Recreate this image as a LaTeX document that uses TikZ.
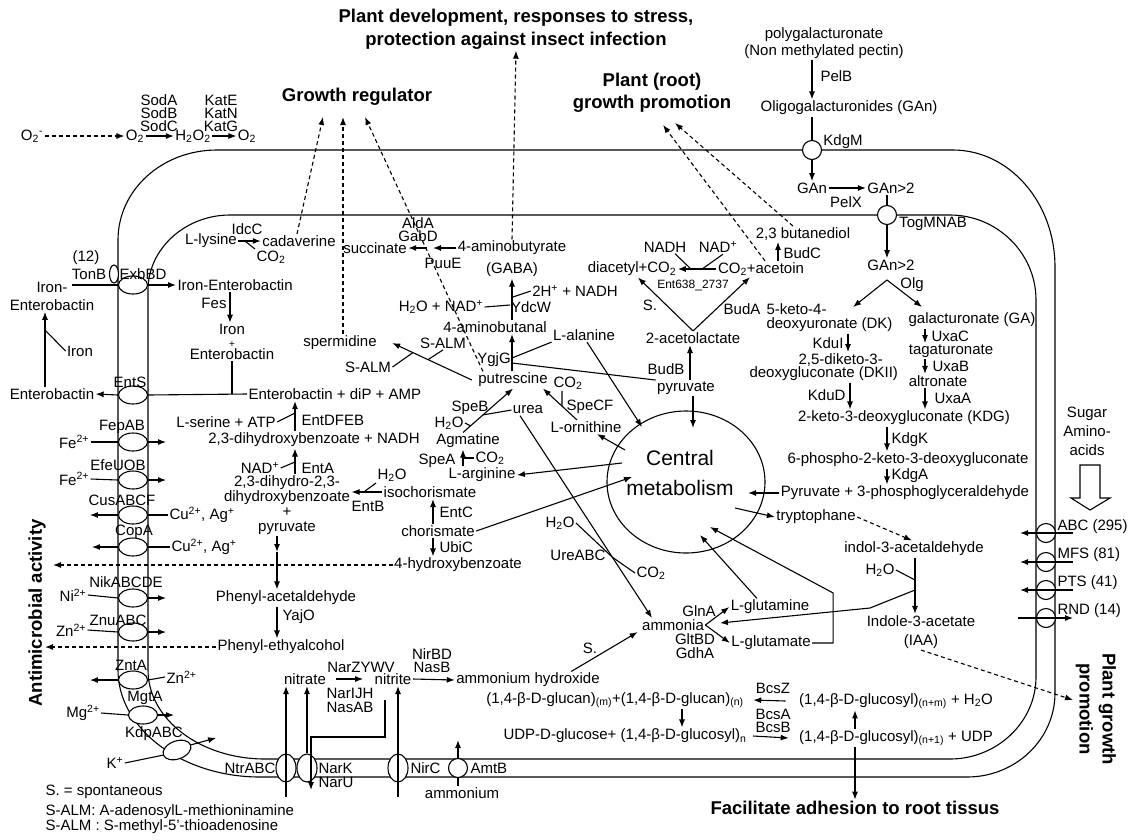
\documentclass[tikz,border=0pt]{standalone}
\usepackage{fontspec}
\setmainfont{Liberation Sans}
\usepackage{tikz}
\usetikzlibrary{arrows.meta,shapes.geometric,calc}
\newcommand{\labfont}{\fontsize{15}{17}\selectfont}
\newcommand{\smfont}{\fontsize{12}{13}\selectfont}
\newcommand{\headfont}{\bfseries\fontsize{18.5}{23}\selectfont}
\newcommand{\cmfont}{\fontsize{21}{30}\selectfont}
\newcommand{\ssub}[1]{\textsubscript{#1}}
\newcommand{\ssup}[1]{\textsuperscript{#1}}

\begin{document}
\begin{tikzpicture}[x=1pt, y=-1pt, line width=1.1pt, every node/.style={font=\labfont, inner sep=1pt}]
\tikzstyle{arr}=[-{Latex[length=8pt,width=6pt]}]
\tikzstyle{dsh}=[arr, dash pattern=on 4pt off 3pt]
\tikzstyle{porter}=[ellipse, draw, fill=white, minimum width=29pt, minimum height=18pt, inner sep=0pt]
\tikzstyle{vporter}=[porter, minimum width=20pt, minimum height=28pt]
\tikzstyle{pore}=[circle, draw, fill=white, minimum size=19pt, inner sep=0pt]
\tikzstyle{headtxt}=[font=\headfont, align=center]
\useasboundingbox (0,0) rectangle (1130,839);

\draw (217,150) -- (953,150) .. controls (1009,150) and (1055,202) .. (1055,267)
  -- (1055,693) .. controls (1055,739) and (1016,777) .. (967,777)
  -- (260,777) .. controls (182,777) and (118,729) .. (118,670)
  -- (118,240) .. controls (118,190) and (162,150) .. (217,150) -- cycle;
\draw (230,215) -- (950,215) .. controls (997,215) and (1036,253) .. (1036,300)
  -- (1036,677) .. controls (1036,722) and (997,759) .. (950,759)
  -- (265,759) .. controls (200,759) and (148,719) .. (148,670)
  -- (148,290) .. controls (148,249) and (185,215) .. (230,215) -- cycle;

\node[headtxt] (tdev) at (516,29) {Plant development, responses to stress,\\protection against insect infection};
\node[headtxt] (tgrow) at (357,97) {Growth regulator};
\node[headtxt, font=\bfseries\fontsize{18.5}{22}\selectfont] (troot) at (652,93) {Plant (root)\\growth promotion};
\node[headtxt, rotate=90] (tanti) at (37,613) {Antimicrobial activity};
\node[headtxt, rotate=-90] (tpgp) at (1096,709) {Plant growth\\promotion};
\node[headtxt] (tadh) at (855,808) {Facilitate adhesion to root tissus};
\coordinate (gr1) at (323,117);
\coordinate (gr2) at (343,117);
\coordinate (gr3) at (365,117);
\coordinate (rt1) at (663,125);
\coordinate (rt2) at (675,123);
\coordinate (anti1) at (53,565);
\coordinate (anti2) at (45,647);
\coordinate (pgp) at (1073,700);

\node (o2m) at (32,136) {O\ssub{2}\ssup{-}};
\node (o2a) at (135,136) {O\ssub{2}};
\node (h2o2) at (193,136) {H\ssub{2}O\ssub{2}};
\node (o2b) at (247,136) {O\ssub{2}};
\node[align=center, font=\fontsize{15}{13}\selectfont] (sod) at (159,113) {SodA\\SodB\\SodC};
\node[align=center, font=\fontsize{15}{13}\selectfont] (kat) at (221,113) {KatE\\KatN\\KatG};

\node[align=center] (pgal) at (824,43) {polygalacturonate\\(Non methylated pectin)};
\node[anchor=west] (pelb) at (819,76) {PelB};
\node (oligo) at (849,108) {Oligogalacturonides (GAn)};
\node[pore] (kdgm) at (812,150) {};
\node (kdgml) at (843,142) {KdgM};
\node (gan) at (812,188) {GAn};
\node (gan2a) at (891,188) {GAn>2};
\node (pelx) at (846,202) {PelX};
\node[pore] (togm) at (887,215) {};
\node (togml) at (933,224) {TogMNAB};
\node (gan2b) at (891,265) {GAn>2};
\node (olg) at (912,285) {Olg};
\coordinate (olgtop) at (887,280);
\coordinate (dktop) at (853,307);
\coordinate (gatop) at (922,307);

\node[anchor=west, align=left, font=\fontsize{15}{14}\selectfont] (dk) at (765,318) {5-keto-4-\\deoxyuronate (DK)};
\node (ga) at (972,320) {galacturonate (GA)};
\node[anchor=east] (kdui) at (845,343) {KduI};
\node[anchor=west] (dkii1) at (797,360) {2,5-diketo-3-};
\node[anchor=west] (dkii2) at (748,374) {deoxygluconate (DKII)};
\node[anchor=east] (kdud) at (847,395) {KduD};
\node (kdg) at (904,418) {2-keto-3-deoxygluconate (KDG)};
\node[anchor=west] (uxac) at (930,336) {UxaC};
\node (tag) at (951,351) {tagaturonate};
\node[anchor=west] (uxab) at (931,366) {UxaB};
\node (altr) at (938,381) {altronate};
\node[anchor=west] (uxaa) at (933,398) {UxaA};
\node[anchor=west] (kdgk) at (890,440) {KdgK};
\node (p6) at (908,460) {6-phospho-2-keto-3-deoxygluconate};
\node[anchor=west] (kdga) at (890,476) {KdgA};
\node (pyr3) at (905,493) {Pyruvate + 3-phosphoglyceraldehyde};

\node[ellipse, draw, minimum width=158pt, minimum height=142pt, inner sep=0pt] (cm) at (686,482) {};
\node[font=\cmfont, align=center] (cmtxt) at (680,473) {Central\\metabolism};
\coordinate (cmN) at (693,428);
\coordinate (cmNW) at (642,427);
\coordinate (cmW1) at (625,450);
\coordinate (cmW2) at (622,463);
\coordinate (cmW3) at (632,477);
\coordinate (cmS1) at (700,535);
\coordinate (cmS2) at (710,527);
\coordinate (cmE) at (748,493);
\coordinate (cmE2) at (735,508);

\node (trp) at (816,517) {tryptophane};
\node (iald) at (914,549) {indol-3-acetaldehyde};
\node (h2oi) at (880,570) {H\ssub{2}O};
\node[align=center, font=\fontsize{15}{19}\selectfont] (iaa) at (921,632) {Indole-3-acetate\\(IAA)};
\coordinate (iaaj1) at (915,580);
\coordinate (iaaj2) at (915,590);
\coordinate (iaak) at (870,608);
\coordinate (amE) at (720,623);

\node[align=center, font=\fontsize{15}{19}\selectfont] (sugar) at (1087,431) {Sugar\\Amino-\\acids};
\node[pore] (abc) at (1046,533) {};
\node[pore] (mfs) at (1046,562) {};
\node[pore] (pts) at (1046,590) {};
\node[pore] (rnd) at (1046,618) {};
\node[anchor=west] (abcl) at (1056,527) {ABC (295)};
\node[anchor=west] (mfsl) at (1056,555) {MFS (81)};
\node[anchor=west] (ptsl) at (1056,583) {PTS (41)};
\node[anchor=west] (rndl) at (1056,611) {RND (14)};

\node (ammonia) at (673,625) {ammonia};
\node (glna) at (699,611) {GlnA};
\node[align=center, font=\fontsize{15}{13.5}\selectfont] (gltbd) at (695,646) {GltBD\\GdhA};
\node (gln) at (770,607) {L-glutamine};
\node (glu) at (771,643) {L-glutamate};
\node (sdot1) at (590,648) {S.};

\node (glucan) at (615,700) {(1,4-β-D-glucan)\ssub{(m)}+(1,4-β-D-glucan)\ssub{(n)}};
\node (bcsz) at (773,688) {BcsZ};
\node (glcnm) at (896,701) {(1,4-β-D-glucosyl)\ssub{(n+m)} + H\ssub{2}O};
\node (udpg) at (625,736) {UDP-D-glucose+ (1,4-β-D-glucosyl)\ssub{n}};
\node[align=center, font=\fontsize{15}{13}\selectfont] (bcsab) at (773,721) {BcsA\\BcsB};
\node (glcn1) at (896,738) {(1,4-β-D-glucosyl)\ssub{(n+1)} + UDP};

\node (nitrate) at (305,679) {nitrate};
\node (narz) at (361,667) {NarZYWV};
\node[align=center, font=\fontsize{15}{14}\selectfont] (narijh) at (350,700) {NarIJH\\NasAB};
\node (nitrite) at (393,679) {nitrite};
\node[align=center, font=\fontsize{15}{13}\selectfont] (nirbd) at (432,661) {NirBD\\NasB};
\node (amhy) at (528,680) {ammonium hydroxide};
\node[vporter] (ntr) at (286,768) {};
\node[anchor=east] (ntrl) at (277,768) {NtrABC};
\node[vporter] (nark) at (307,768) {};
\node[anchor=west, align=left, font=\fontsize{15}{14}\selectfont] (narkl) at (317,775) {NarK\\NarU};
\node[vporter] (nirc) at (398,768) {};
\node[anchor=west] (nircl) at (409,768) {NirC};
\node[pore] (amtb) at (458,768) {};
\node[anchor=west] (amtbl) at (469,768) {AmtB};
\node (ammonium) at (462,793) {ammonium};
\coordinate (ntrbot) at (286,797);
\coordinate (nircbot) at (398,797);
\coordinate (amtbtip) at (458,740);
\coordinate (nitj) at (385,700);
\coordinate (nitk) at (311,737);
\coordinate (nitout) at (311,790);

\node[porter] (exbbd) at (133,285) {};
\node[ellipse, draw, fill=white, minimum width=9pt, minimum height=18pt, inner sep=0pt] (tonb) at (114,274) {};
\node (n12) at (86,258) {(12)};
\node (tonbl) at (89,274) {TonB};
\node (exbbdl) at (143,274) {ExbBD};
\node[align=center, font=\fontsize{15}{18}\selectfont] (ironent) at (52,296) {Iron-\\Enterobactin};
\node[anchor=west] (ironent2) at (176,285) {Iron-Enterobactin};
\node (fes) at (214,303) {Fes};
\node[align=center, font=\fontsize{15}{12.5}\selectfont] (ironplus) at (232,342) {Iron\\{\fontsize{10}{10}\selectfont +}\\Enterobactin};
\node[porter] (ents) at (133,395) {};
\node (entsl) at (130,382) {EntS};
\node (entout) at (52,394) {Enterobactin};
\node (ironx) at (80,351) {Iron};
\node[anchor=west] (entamp) at (247,394) {Enterobactin + diP + AMP};
\coordinate (ironj) at (45,330);
\coordinate (ironline) at (72,285);

\node (serine) at (226,422) {L-serine + ATP};
\node[anchor=west] (entdfeb) at (300,420) {EntDFEB};
\node (dhb) at (314,440) {2,3-dihydroxybenzoate + NADH};
\node (nad1) at (260,468) {NAD\ssup{+}};
\node[anchor=west] (enta) at (300,468) {EntA};
\node[align=center, font=\fontsize{15}{15}\selectfont] (dhdhb) at (287,505) {2,3-dihydro-2,3-\\dihydroxybenzoate\\+\\pyruvate};
\node (iso) at (430,492) {isochorismate};
\node (h2oiso) at (392,475) {H\ssub{2}O};
\node (entb) at (368,506) {EntB};
\node (chor) at (438,531) {chorismate};
\node[anchor=west] (entc) at (438,512) {EntC};
\node[anchor=west] (ubic) at (438,547) {UbiC};
\node (hba) at (458,565) {4-hydroxybenzoate};
\node (phac) at (286,598) {Phenyl-acetaldehyde};
\node[anchor=west] (yajo) at (281,617) {YajO};
\node (phet) at (281,647) {Phenyl-ethyalcohol};
\coordinate (atpj) at (295,413);
\coordinate (nadj) at (295,462);
\coordinate (isoj) at (365,491);
\coordinate (pyrmid) at (277,552);

\node[porter] (fepab) at (133,442) {};
\node (fepabl) at (122,427) {FepAB};
\node (fe1) at (74,442) {Fe\ssup{2+}};
\node[porter] (efeuob) at (133,480) {};
\node (efeuobl) at (118,465) {EfeUOB};
\node (fe2) at (74,479) {Fe\ssup{2+}};
\node[porter] (cusabcf) at (133,515) {};
\node (cusl) at (122,500) {CusABCF};
\node[anchor=west] (cu1) at (168,515) {Cu\ssup{2+}, Ag\ssup{+}};
\node[porter] (copa) at (133,547) {};
\node (copal) at (134,532) {CopA};
\node[anchor=west] (cu2) at (170,547) {Cu\ssup{2+}, Ag\ssup{+}};
\node[porter] (nik) at (133,598) {};
\node (nikl) at (126,582) {NikABCDE};
\node (ni) at (73,595) {Ni\ssup{2+}};
\node[porter] (znu) at (133,632) {};
\node (znul) at (118,620) {ZnuABC};
\node (zn1) at (71,630) {Zn\ssup{2+}};
\node[porter] (znta) at (133,680) {};
\node (zntal) at (131,665) {ZntA};
\node[anchor=west] (zn2) at (165,677) {Zn\ssup{2+}};
\node[porter] (mgta) at (143,715) {};
\node (mgtal) at (145,698) {MgtA};
\node (mg) at (83,713) {Mg\ssup{2+}};
\node[porter, rotate=20] (kdp) at (177,750) {};
\node (kdpl) at (154,734) {KdpABC};
\node (kion) at (115,763) {K\ssup{+}};

\node (lys) at (211,241) {L-lysine};
\node (idcc) at (247,229) {IdcC};
\node (cad) at (299,241) {cadaverine};
\node (co2a) at (271,257) {CO\ssub{2}};
\coordinate (lysj) at (245,241);
\node (succ) at (375,248) {succinate};
\node[align=center, font=\fontsize{15}{13}\selectfont] (aldgab) at (418,230) {AldA\\GabD};
\node (puue) at (443,263) {PuuE};
\node[align=center, font=\fontsize{15}{22}\selectfont] (gaba) at (512,259) {4-aminobutyrate\\(GABA)};
\coordinate (ssa) at (430,248);
\node (abal) at (495,327) {4-aminobutanal};
\node (h2onad) at (441,307) {H\ssub{2}O + NAD\ssup{+}};
\node (ydcw) at (531,307) {YdcW};
\node (h2nadh) at (575,291) {2H\ssup{+} + NADH};
\coordinate (ydj1) at (510,305);
\coordinate (ydj2) at (513,297);
\node (put) at (513,380) {putrescine};
\node (ygjg) at (494,360) {YgjG};
\coordinate (ygj1) at (512,358);
\coordinate (ygj2) at (512,363);
\node (spd) at (340,343) {spermidine};
\node (salm1) at (443,343) {S-ALM};
\node (salm2) at (368,367) {S-ALM};
\node (speb) at (470,408) {SpeB};
\node (urea) at (528,410) {urea};
\node (h2oagm) at (449,423) {H\ssub{2}O};
\node (agm) at (468,441) {Agmatine};
\node (spea) at (437,461) {SpeA};
\node (co2b) at (490,458) {CO\ssub{2}};
\node (arg) at (482,475) {L-arginine};
\node (co2c) at (568,383) {CO\ssub{2}};
\node (specf) at (590,407) {SpeCF};
\node (orn) at (586,427) {L-ornithine};
\node (ala) at (584,335) {L-alanine};
\node (h2ou) at (560,523) {H\ssub{2}O};
\node (ureabc) at (578,555) {UreABC};
\node (co2d) at (651,573) {CO\ssub{2}};

\node (pyr) at (686,388) {pyruvate};
\node (budb) at (666,369) {BudB};
\node (acl) at (693,338) {2-acetolactate};
\node (sdot2) at (650,305) {S.};
\node (buda) at (742,309) {BudA};
\node (diac) at (632,269) {diacetyl+CO\ssub{2}};
\node (acet) at (761,269) {CO\ssub{2}+acetoin};
\node (nadh2) at (665,247) {NADH};
\node (nadp2) at (718,247) {NAD\ssup{+}};
\node[font=\smfont] (ent638) at (693,285) {Ent638\_2737};
\node (btd) at (803,234) {2,3 butanediol};
\node[anchor=west] (budc) at (782,253) {BudC};

\node[anchor=west] (leg1) at (44,792) {S. = spontaneous};
\node[anchor=west] (leg2) at (44,812) {S-ALM: A-adenosylL-methioninamine};
\node[anchor=west] (leg3) at (44,827) {S-ALM : S-methyl-5’-thioadenosine};

\draw[dsh] (o2m) -- (o2a);
\draw[arr] (o2a) -- (h2o2);
\draw[arr] (h2o2) -- (o2b);

\draw[arr] (pgal.south -| kdgm.center) -- (oligo.north -| kdgm.center);
\draw (oligo.south -| kdgm.center) -- (kdgm.north);
\draw[arr] (kdgm.south) -- (gan.north);
\draw[arr] (gan.east) -- (gan2a.west);
\draw (gan2a.south -| togm.center) -- (togm.north);
\draw[arr] (togm.south) -- (gan2b.north -| togm.center);
\draw[arr] (olgtop) -- (dktop);
\draw[arr] (olgtop) -- (gatop);
\draw[arr] (dk.south -| 848,0) -- (dkii1.north -| 848,0);
\draw[arr] (dkii2.south -| 850,0) -- (kdg.north -| 850,0);
\draw[arr] (ga.south -| 925,0) -- (tag.north -| 925,0);
\draw[arr] (tag.south -| 925,0) -- (altr.north -| 925,0);
\draw[arr] (altr.south -| 925,0) -- (kdg.north -| 925,0);
\draw[arr] (kdg.south -| 887,0) -- (p6.north -| 887,0);
\draw[arr] (p6.south -| 887,0) -- (pyr3.north -| 887,0);
\draw[arr] (pyr3.west) -- (cmE);
\draw[arr] (cmE2) -- (trp.west);
\draw[dsh] (trp.east) -- ([xshift=-2pt]iald.north);
\draw[arr] (iald.south -| 915,0) -- (iaa.north -| 915,0);
\draw (h2oi.east) -- (iaaj1);
\draw[arr] (iaaj2) -- (iaak) -- (amE);
\draw[dsh] (iaa.south) -- (pgp);

\draw (1080,465) -- (1100,465) -- (1100,498) -- (1110,498) -- (1090,510) -- (1071,498) -- (1080,498) -- cycle;
\draw[arr] ([xshift=27pt]abc.center) -- ([xshift=-26pt]abc.center);
\draw[arr] ([xshift=27pt]mfs.center) -- ([xshift=-26pt]mfs.center);
\draw[arr] ([xshift=27pt]pts.center) -- ([xshift=-26pt]pts.center);
\draw[arr] ([xshift=-28pt]rnd.center) -- ([xshift=27pt]rnd.center);

\draw[arr] (ammonia.east) -- (gln.west);
\draw[arr] (ammonia.east) -- (glu.west);
\draw[arr] ([xshift=-13pt]gln.north) -- (cmS1);
\draw[arr] (glu.east) -- ++(21,0) -- ++(0,-50) -- (cmS2);
\draw[arr] ([xshift=-30pt]amhy.north east) -- ([xshift=-3pt]ammonia.south west);

\draw[arr] ([xshift=-12pt]glcnm.west) -- ([xshift=8pt]glucan.east);
\draw[arr] ([xshift=5pt]udpg.east) -- ([xshift=-9pt]glcn1.west);
\draw[arr] (glcn1.north -| 855,0) -- (glcnm.south -| 855,0);
\draw[arr] (glucan.south -| 682,0) -- (udpg.north -| 682,0);
\draw[arr] (glcn1.south -| 855,0) -- (tadh.north -| 855,0);

\draw[arr] ([xshift=9pt]nitrate.east) -- ([xshift=-10pt]nitrite.west);
\draw[arr] (nitrite.east) -- (amhy.west);
\draw[arr] (ntrbot) -- (ntr.center |- nitrate.south);
\draw[arr] (nark.north) -- (nark.north |- nitrate.south);
\draw[arr] (nitj) |- (nitk) -- (nitout);
\draw[arr] (nircbot) -- (nirc.center |- nitrite.south);
\draw (ammonium.north -| amtb.center) -- (amtb.south);
\draw[arr] (amtb.north) -- (amtbtip);

\draw (ironline) -- (exbbd.west);
\draw[arr] (exbbd.east) -- (ironent2.west);
\draw[arr] (ironent2.south -| 230,0) -- (ironplus.north -| 230,0);
\draw (ents.east) -- (entamp.west);
\draw (ironplus.south) -- (ironplus.south |- entamp.west);
\draw[arr] (ents.west) -- (entout.east);
\draw[arr] (entout.north -| 45,0) -- (ironent.south -| 45,0);
\draw (ironj) -- (ironx.west);

\draw[arr] (dhb.north -| 295,0) -- (entamp.south -| 295,0);
\draw (serine.east) -- (atpj);
\draw[arr] (dhdhb.north -| 295,0) -- (dhb.south -| 295,0);
\draw (nad1.east) -- (nadj);
\draw[arr] (iso.west) -- (dhdhb.east |- iso.west);
\draw (h2oiso.south west) -- (isoj);
\draw[arr] (chor.north -| 433,0) -- (iso.south -| 433,0);
\draw[arr] (chor.south -| 433,0) -- (hba.north -| 433,0);
\draw[dsh] (hba.west) -- (anti1);
\draw[arr] (chor.east) -- (cmW3);
\draw[arr] (dhdhb.south -| pyrmid) -- (pyrmid);
\draw[arr] (pyrmid) -- (phac.north -| pyrmid);
\draw[arr] (phac.south -| 277,0) -- (phet.north -| 277,0);
\draw[dsh] (phet.west) -- (anti2);

\draw (fe1.east) -- (fepab.west);
\draw[arr] (fepab.east) -- ++(18,0);
\draw (fe2.east) -- (efeuob.west);
\draw[arr] (efeuob.east) -- ++(18,0);
\draw (cu1.west) -- (cusabcf.east);
\draw[arr] (cusabcf.west) -- ++(-28,0);
\draw (cu2.west) -- (copa.east);
\draw[arr] (copa.west) -- ++(-26,0);
\draw (ni.east) -- (nik.west);
\draw[arr] (nik.east) -- ++(18,0);
\draw (zn1.east) -- (znu.west);
\draw[arr] (znu.east) -- ++(18,0);
\draw (zn2.west) -- (znta.east);
\draw[arr] (znta.west) -- ++(-28,0);
\draw (mg.east) -- (mgta.west);
\draw[arr] (mgta.east) -- ++(16,0);
\draw (kion.east) -- (kdp.west);
\draw[arr] (kdp.east) -- ++(25,-7);

\draw[arr] (lys.east) -- (cad.west);
\draw (lysj) -- (co2a.north west);
\draw[dsh] ([xshift=-2pt]cad.north) -- (gr1);
\draw[arr] ([xshift=-3pt]ssa) -- (succ.east);
\draw[arr] (gaba.west |- ssa) -- ([xshift=3pt]ssa);
\draw[dsh] (gaba.north) -- (tdev.south);
\draw[arr] (abal.north -| 512,0) -- (gaba.south -| 512,0);
\draw (h2onad.east) -- (ydj1);
\draw (ydj2) -- (h2nadh.west);
\draw[arr] (put.north -| 512,0) -- (abal.south -| 512,0);
\draw (ygj1) -- (ala.south west);
\draw (ygj2) -- (pyr.north west);
\coordinate (putw) at ([xshift=-5pt]put.west);
\coordinate (spdtip) at ([xshift=14pt]spd.east);
\draw[arr] (putw) -- (spdtip);
\draw (salm2.east) -- ($(putw)!0.74!(spdtip)$);
\draw ($(putw)!0.55!(spdtip)$) -- (salm1.south);
\draw[dsh] ([xshift=-30pt]put.north) -- (gr3);
\draw[dsh] (spd.north -| gr2) -- (gr2);
\coordinate (agmst) at ([xshift=-5pt]agm.north);
\coordinate (putS) at (put.south);
\draw[arr] (agmst) -- (putS);
\draw (h2oagm.east) -- ($(agmst)!0.15!(putS)$);
\draw ($(agmst)!0.4!(putS)$) -- (urea.west);
\draw[arr] (arg.north -| 463,0) -- (agm.south -| 463,0);
\draw (co2b.west) -- (463,458);
\draw[arr] (cmW2) -- (arg.east);
\coordinate (ornN) at ([xshift=-9pt]orn.north);
\coordinate (putS2) at ([xshift=30pt]put.south);
\draw[arr] (ornN) -- (putS2);
\draw (co2c.south -| 562,0) -- ($(ornN)!0.44!(putS2)$);
\draw[arr] (cmW1) -- ([xshift=11pt]orn.south);
\draw[arr] ([xshift=3pt]ala.south) -- (cmNW);
\coordinate (ureaS) at ([xshift=-8pt]urea.south);
\coordinate (ammN) at ([xshift=-21pt]ammonia.north);
\draw[arr] (ureaS) -- (ammN);
\draw (h2ou.east) -- ($(ureaS)!0.7!(ammN)$) -- (co2d.west);

\draw[arr] (pyr.north -| 690,0) -- (acl.south -| 690,0);
\draw[arr] (pyr.south -| cmN) -- (cmN);
\draw[arr] (acl.north) -- ([xshift=6pt]diac.south);
\draw[arr] (acl.north) -- ([xshift=-11pt]acet.south);
\draw[arr] (acet.west) -- (diac.east);
\draw ([xshift=10pt]nadh2.south) -- ($(acet.west)!0.66!(diac.east)$);
\draw ($(acet.west)!0.37!(diac.east)$) -- ([xshift=5pt]nadp2.south);
\draw[arr] (acet.north -| 778,0) -- (btd.south -| 778,0);
\draw[dsh] (btd.north -| 793,0) -- (rt2);
\draw[dsh] (acet.north -| 765,0) -- (rt1);
\end{tikzpicture}
\end{document}
